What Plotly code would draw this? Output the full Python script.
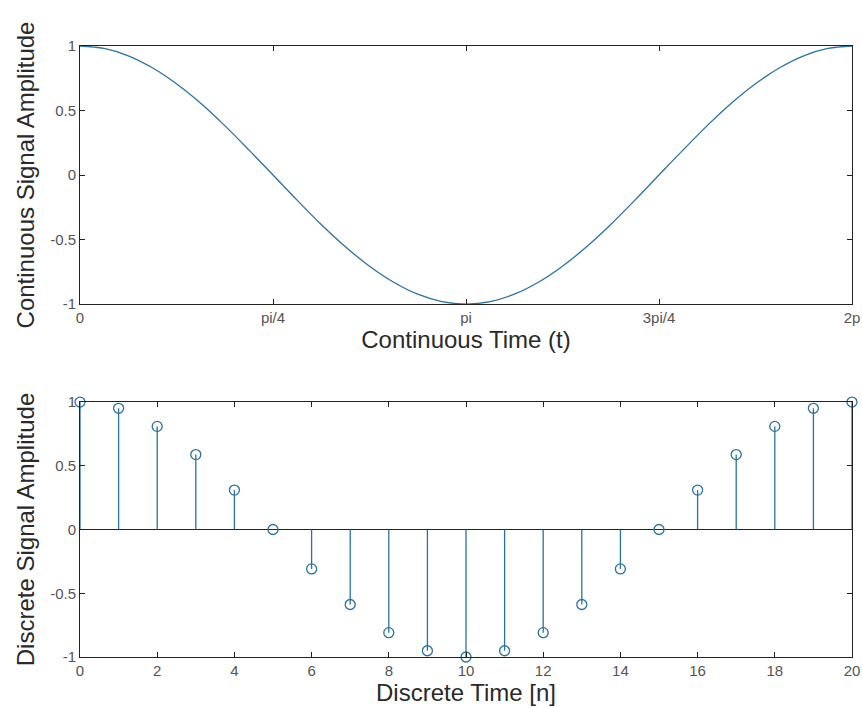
import plotly.graph_objects as go
from plotly.subplots import make_subplots

# Continuous signal
t_vals = [0.000, 0.196, 0.393, 0.589, 0.785, 0.982, 1.178, 1.374, 1.571, 1.767, 1.963,
          2.160, 2.356, 2.553, 2.749, 2.945, 3.142, 3.338, 3.534, 3.731, 3.927, 4.123,
          4.320, 4.516, 4.712, 4.909, 5.105, 5.301, 5.498, 5.694, 5.890, 6.087, 6.283]
cont_amp = [1.000, 0.981, 0.924, 0.831, 0.707, 0.556, 0.383, 0.195, 0.000, -0.195, -0.383,
            -0.556, -0.707, -0.831, -0.924, -0.981, -1.000, -0.981, -0.924, -0.831, -0.707, -0.556,
            -0.383, -0.195, 0.000, 0.195, 0.383, 0.556, 0.707, 0.831, 0.924, 0.981, 1.000]
t_tickvals = [0, 1.5708, 3.1416, 4.7124, 6.2832]
t_ticklabels = ["0", "pi/4", "pi", "3pi/4", "2p"]

# Discrete signal
n_vals = list(range(21))
disc_amp = [1.000, 0.951, 0.809, 0.588, 0.309, 0.000, -0.309, -0.588, -0.809, -0.951, -1.000,
            -0.951, -0.809, -0.588, -0.309, 0.000, 0.309, 0.588, 0.809, 0.951, 1.000]
n_tickvals = [0, 2, 4, 6, 8, 10, 12, 14, 16, 18, 20]
amp_tickvals = [-1, -0.5, 0, 0.5, 1]
amp_ticklabels = ["-1", "-0.5", "0", "0.5", "1"]

LINE = "#2a72a0"
FONT = "Liberation Sans, Arial, sans-serif"

fig = make_subplots(rows=2, cols=1)

fig.add_trace(go.Scatter(x=t_vals, y=cont_amp, mode="lines", line=dict(color=LINE, width=1.3, shape="spline"),
                         showlegend=False), row=1, col=1)

sx, sy = [], []
for n, a in zip(n_vals, disc_amp):
    sx += [n, n, None]
    sy += [0, a, None]
fig.add_trace(go.Scatter(x=sx, y=sy, mode="lines", line=dict(color=LINE, width=1.3),
                         showlegend=False, cliponaxis=False), row=2, col=1)
fig.add_trace(go.Scatter(x=n_vals, y=disc_amp, mode="markers",
                         marker=dict(symbol="circle-open", size=10, color=LINE, line=dict(width=1.3)),
                         showlegend=False, cliponaxis=False), row=2, col=1)

axis_common = dict(showline=True, linecolor="#222", linewidth=1, mirror="ticks", ticks="inside",
                   ticklen=5, tickcolor="#222", showgrid=False, automargin=False,
                   ticklabeloverflow="allow",
                   tickfont=dict(family=FONT, size=15, color="#555"),
                   title_font=dict(family=FONT, size=24, color="#2a2a2a"))

fig.update_xaxes(axis_common)
fig.update_yaxes(axis_common)

fig.update_xaxes(row=1, col=1, range=[0, 6.2832], tickvals=t_tickvals, ticktext=t_ticklabels,
                 zeroline=False, title_text="Continuous Time (t)", title_standoff=3, domain=[0, 1])
fig.update_yaxes(row=1, col=1, range=[-1, 1], tickvals=amp_tickvals, ticktext=amp_ticklabels,
                 zeroline=False, title_text="Continuous Signal Amplitude", title_standoff=8,
                 domain=[0.5777, 1.0])
fig.update_xaxes(row=2, col=1, range=[0, 20], tickvals=n_tickvals, zeroline=False,
                 title_text="Discrete Time [n]", title_standoff=3, domain=[0, 1])
fig.update_yaxes(row=2, col=1, range=[-1, 1], tickvals=amp_tickvals, ticktext=amp_ticklabels,
                 zeroline=True, zerolinecolor="#222", zerolinewidth=1,
                 title_text="Discrete Signal Amplitude", title_standoff=8, domain=[0, 0.4173])

fig.update_layout(width=862, height=708, margin=dict(l=80, r=10, t=46, b=51),
                  plot_bgcolor="white", paper_bgcolor="white", font=dict(family=FONT))

fig.write_html("out.html", config={"displayModeBar": False},
               post_script="document.body.style.margin='0';document.body.style.overflow='hidden';")
